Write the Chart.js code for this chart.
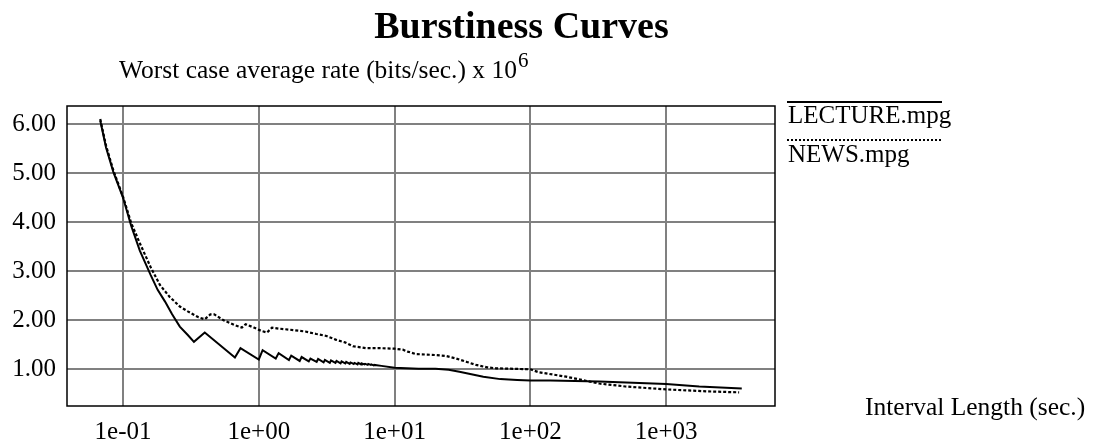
<!DOCTYPE html>
<html>
<head>
<meta charset="utf-8">
<title>Burstiness Curves</title>
<script src="https://cdn.jsdelivr.net/npm/chart.js@4/dist/chart.umd.min.js"></script>
<style>
  html, body { margin: 0; padding: 0; background: #ffffff; }
  #wrap { width: 1093px; height: 448px; }
  canvas { display: block; }
</style>
</head>
<body>
<div id="wrap"><canvas id="chart" width="1093" height="448"></canvas></div>
<script>
// Interval length (sec.) and worst case average rate (Mbit/s) for each clip
const lectureX = [0.068, 0.075, 0.085, 0.1, 0.115, 0.133, 0.16, 0.18, 0.204, 0.23, 0.262, 0.30, 0.333,
  0.40, 0.667, 0.733, 1.0, 1.067, 1.333, 1.40, 1.667, 1.733, 2.0, 2.067, 2.333, 2.40,
  2.667, 2.733, 3.0, 3.067, 3.333, 3.40, 3.667, 3.733, 4.0, 4.067, 4.333, 4.40,
  4.667, 4.733, 5.0, 5.067, 5.333, 5.40, 5.667, 5.733, 6.0, 6.067, 6.333, 6.40,
  6.667, 6.733, 7.0, 7.067, 8.0, 10, 15, 20, 25, 30, 45, 60, 80, 100, 140, 321,
  1000, 1750, 3600];
const lectureY = [6.07, 5.52, 5.02, 4.50, 3.92, 3.42, 2.92, 2.62, 2.38, 2.12, 1.87, 1.70, 1.56,
  1.75, 1.24, 1.43, 1.20, 1.39, 1.22, 1.33, 1.19, 1.28, 1.17, 1.25, 1.16, 1.22,
  1.15, 1.21, 1.14, 1.19, 1.13, 1.18, 1.13, 1.17, 1.12, 1.16, 1.12, 1.15,
  1.11, 1.14, 1.11, 1.13, 1.10, 1.13, 1.10, 1.12, 1.10, 1.11, 1.09, 1.11,
  1.09, 1.10, 1.08, 1.09, 1.07, 1.03, 1.01, 1.01, 0.99, 0.95, 0.85, 0.80, 0.78, 0.77, 0.77, 0.75,
  0.70, 0.65, 0.61];

const newsX = [0.068, 0.075, 0.085, 0.1, 0.115, 0.133, 0.16, 0.187, 0.22, 0.262,
  0.30, 0.36, 0.40, 0.44, 0.47, 0.55, 0.667, 0.75, 0.80, 0.92, 1.05, 1.15, 1.25,
  1.40, 1.79, 2.2, 2.65, 3.15, 3.72, 4.3, 4.93, 6.19, 8.0, 10, 11.5, 12.5, 14.4,
  20.2, 24, 28.4, 34, 39.8, 48, 56, 100, 115, 183, 321, 500, 1000, 2000, 3443];
const newsY = [6.10, 5.56, 5.05, 4.52, 3.98, 3.57, 3.08, 2.72, 2.48, 2.28,
  2.18, 2.06, 2.02, 2.12, 2.12, 2.00, 1.90, 1.85, 1.92, 1.85, 1.78, 1.75, 1.85,
  1.83, 1.80, 1.77, 1.72, 1.68, 1.60, 1.55, 1.47, 1.43, 1.43, 1.42, 1.40, 1.36, 1.31,
  1.29, 1.27, 1.22, 1.15, 1.09, 1.04, 1.02, 1.00, 0.94, 0.85, 0.71, 0.65, 0.59, 0.55, 0.53];

// Axis ticks and their printed labels
const xTicks = [0.1, 1, 10, 100, 1000];
const xTickLabels = ['1e-01', '1e+00', '1e+01', '1e+02', '1e+03'];
const yTicks = [1, 2, 3, 4, 5, 6];
const yTickLabels = ['1.00', '2.00', '3.00', '4.00', '5.00', '6.00'];

const seriesNames = ['LECTURE.mpg', 'NEWS.mpg'];
const titleText = 'Burstiness Curves';
const yTitleText = 'Worst case average rate (bits/sec.) x 10';
const yTitleExp = '6';
const xTitleText = 'Interval Length (sec.)';

const SERIF = '"Liberation Serif", "Times New Roman", serif';

const toPoints = (xs, ys) => xs.map((x, i) => ({ x: x, y: ys[i] }));

// Frame, headings and the line-over-name legend
const decorations = {
  id: 'decorations',
  afterDraw(chart) {
    const ctx = chart.ctx;
    const a = chart.chartArea;
    ctx.save();

    ctx.strokeStyle = '#000';
    ctx.lineWidth = 1.5;
    ctx.strokeRect(a.left, a.top, a.right - a.left, a.bottom - a.top);

    ctx.fillStyle = '#000';
    ctx.textBaseline = 'alphabetic';

    ctx.font = 'bold 38px ' + SERIF;
    ctx.textAlign = 'center';
    ctx.fillText(titleText, 521.5, 38);

    ctx.textAlign = 'left';
    ctx.font = '25.5px ' + SERIF;
    ctx.fillText(yTitleText, 119, 78);
    const w = ctx.measureText(yTitleText).width;
    ctx.font = '21px ' + SERIF;
    ctx.fillText(yTitleExp, 119 + w + 1, 67);

    ctx.font = '25.5px ' + SERIF;
    ctx.fillText(xTitleText, 865, 415);

    // legend
    const lx0 = 787, lx1 = 942;
    ctx.lineWidth = 2;
    ctx.beginPath();
    ctx.moveTo(lx0, 102);
    ctx.lineTo(lx1, 102);
    ctx.stroke();
    ctx.setLineDash([2, 2]);
    ctx.beginPath();
    ctx.moveTo(lx0, 140);
    ctx.lineTo(lx1, 140);
    ctx.stroke();
    ctx.setLineDash([]);

    ctx.font = '25px ' + SERIF;
    ctx.fillText(seriesNames[0], 788, 123);
    ctx.fillText(seriesNames[1], 788, 162);

    ctx.restore();
  }
};

new Chart(document.getElementById('chart'), {
  type: 'line',
  data: {
    datasets: [
      {
        label: seriesNames[0],
        data: toPoints(lectureX, lectureY),
        borderColor: '#000',
        borderWidth: 2,
        pointRadius: 0,
        tension: 0,
        fill: false
      },
      {
        label: seriesNames[1],
        data: toPoints(newsX, newsY),
        borderColor: '#000',
        borderWidth: 2.2,
        borderDash: [3, 2],
        pointRadius: 0,
        tension: 0,
        fill: false
      }
    ]
  },
  options: {
    responsive: false,
    animation: false,
    devicePixelRatio: 1,
    layout: { padding: { top: 106, right: 318, left: 0, bottom: 0 } },
    plugins: {
      legend: { display: false },
      title: { display: false },
      tooltip: { enabled: false }
    },
    scales: {
      x: {
        type: 'logarithmic',
        min: 0.0387,
        max: 6324,
        afterBuildTicks: (scale) => { scale.ticks = xTicks.map(v => ({ value: v })); },
        afterFit: (scale) => { scale.height = 42; },
        border: { display: false },
        grid: { color: '#808080', lineWidth: 2, drawTicks: false },
        ticks: {
          autoSkip: false,
          maxRotation: 0,
          padding: 11,
          color: '#000',
          font: { family: SERIF, size: 25 },
          callback: (value, index) => xTickLabels[index]
        }
      },
      y: {
        type: 'linear',
        min: 0.252,
        max: 6.367,
        afterBuildTicks: (scale) => { scale.ticks = yTicks.map(v => ({ value: v })); },
        afterFit: (scale) => { scale.width = 67; },
        border: { display: false },
        grid: { color: '#808080', lineWidth: 2, drawTicks: false },
        ticks: {
          autoSkip: false,
          padding: 11,
          color: '#000',
          font: { family: SERIF, size: 25 },
          callback: (value, index) => yTickLabels[index]
        }
      }
    }
  },
  plugins: [decorations]
});
</script>
</body>
</html>
